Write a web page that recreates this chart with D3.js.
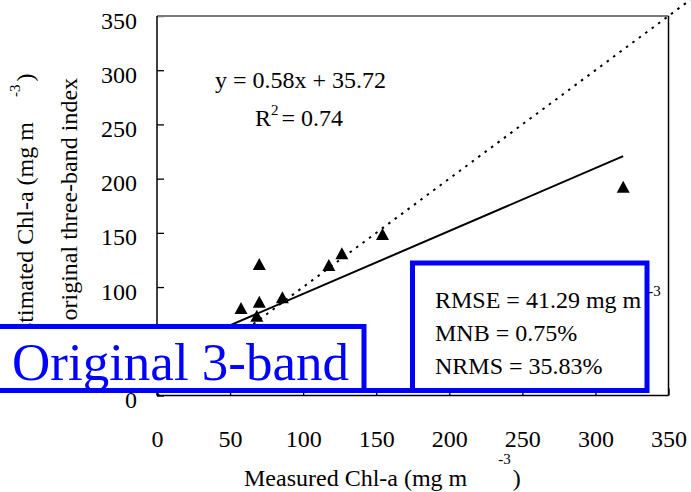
<!DOCTYPE html>
<html>
<head>
<meta charset="utf-8">
<script src="https://cdn.jsdelivr.net/npm/d3@7/dist/d3.min.js"></script>
<style>
  html, body { margin: 0; padding: 0; background: #fff; }
  svg { display: block; }
  svg text { font-family: "Liberation Serif", "Times New Roman", serif; }
</style>
</head>
<body>
<svg id="chart" width="691" height="492"></svg>
<script>
// ---- data ----
const measured  = [57.5, 68.3, 70.0, 70.0, 85.8, 117.6, 126.5, 154.3, 319.0];
const estimated = [80.7, 73.6, 86.5, 121.3, 90.6, 120.4, 131.2, 149.0, 192.6];
const xTicks = [0, 50, 100, 150, 200, 250, 300, 350];
const yTicks = [0, 50, 100, 150, 200, 250, 300, 350];
const slope = 0.58, intercept = 35.72;
const fitRange = [30, 319];
const oneToOneRange = [0, 365];
const equationText = "y = 0.58x + 35.72";
const r2Value = "0.74";
const statsLines = ["RMSE = 41.29 mg m", "MNB = 0.75%", "NRMS = 35.83%"];
const bannerText = "Original 3-band";

// ---- setup ----
const svg = d3.select("#chart");
const x = d3.scaleLinear().domain([0, 350]).range([157, 668.5]);
const y = d3.scaleLinear().domain([0, 350]).range([395.5, 16]);
const FS = 24;
const serif = "Liberation Serif, Times New Roman, serif";

// axes (ticks inward)
const yAxis = d3.axisLeft(y).tickValues(yTicks).tickSizeInner(-7).tickSizeOuter(0).tickPadding(20);
const xAxis = d3.axisBottom(x).tickValues(xTicks).tickSizeInner(-7).tickSizeOuter(0).tickPadding(34);

const gy = svg.append("g").attr("transform", `translate(${x(0)},0)`).call(yAxis);
gy.select(".domain").remove();
gy.attr("font-family", serif);
gy.selectAll(".tick line").attr("stroke", "#000").attr("stroke-width", 1.3);
gy.selectAll("text").attr("font-size", FS).attr("fill", "#000").attr("dy", "0.5em");

const gx = svg.append("g").attr("transform", `translate(0,${y(0)})`).call(xAxis);
gx.select(".domain").remove();
gx.attr("font-family", serif);
gx.selectAll(".tick line").attr("stroke", "#000").attr("stroke-width", 1.3);
gx.selectAll("text").attr("font-size", FS).attr("fill", "#000");

// frame
const frame = svg.append("g");
frame.append("line").attr("x1", x(0)).attr("x2", x(350)).attr("y1", y(350)).attr("y2", y(350))
  .attr("stroke", "#7a7a7a").attr("stroke-width", 2);
frame.append("line").attr("x1", x(0)).attr("x2", x(0)).attr("y1", y(0)).attr("y2", y(350))
  .attr("stroke", "#000").attr("stroke-width", 1.5);
frame.append("line").attr("x1", x(350)).attr("x2", x(350)).attr("y1", y(0)).attr("y2", y(350))
  .attr("stroke", "#000").attr("stroke-width", 1.5);
frame.append("line").attr("x1", x(0)).attr("x2", x(350)).attr("y1", y(0)).attr("y2", y(0))
  .attr("stroke", "#000").attr("stroke-width", 1.5);

// 1:1 dotted line
const line = d3.line().x(d => x(d[0])).y(d => y(d[1]));
svg.append("path")
  .attr("d", line(oneToOneRange.map(v => [v, v])))
  .attr("fill", "none").attr("stroke", "#000").attr("stroke-width", 2)
  .attr("stroke-dasharray", "2.5,5.5");

// regression line
svg.append("path")
  .attr("d", line(fitRange.map(v => [v, slope * v + intercept])))
  .attr("fill", "none").attr("stroke", "#000").attr("stroke-width", 2);

// triangle markers
const tw = 13, th = 12;
const tri = `M0,${-th/2}L${tw/2},${th/2}L${-tw/2},${th/2}Z`;
svg.append("g").selectAll("path")
  .data(measured.map((m, i) => [m, estimated[i]]))
  .join("path")
  .attr("d", tri)
  .attr("transform", d => `translate(${x(d[0])},${y(d[1])})`)
  .attr("fill", "#000");

// equation
svg.append("text").attr("x", 215).attr("y", 88).attr("font-size", FS).attr("fill", "#000")
  .text(equationText);
const r2 = svg.append("text").attr("x", 255).attr("y", 126).attr("font-size", FS).attr("fill", "#000");
r2.append("tspan").text("R");
r2.append("tspan").attr("font-size", 15).attr("dy", -11).attr("dx", 0).text("2");
r2.append("tspan").attr("dy", 11).attr("dx", -3).text(" = " + r2Value);

// y axis title (two lines)
const yt1 = svg.append("text").attr("transform", "translate(33,346.7) rotate(-90)")
  .attr("font-size", FS).attr("fill", "#000");
yt1.append("tspan").text("Estimated Chl-a (mg m");
yt1.append("tspan").attr("font-size", 15).attr("dx", 25).attr("dy", -13).text("-3");
yt1.append("tspan").attr("dx", 3).attr("dy", 13).text(")");
svg.append("text").attr("transform", "translate(77,320.5) rotate(-90)")
  .attr("font-size", FS).attr("fill", "#000").text("original three-band index");

// x axis title
const xt = svg.append("text").attr("x", 244).attr("y", 486).attr("font-size", FS).attr("fill", "#000");
xt.append("tspan").text("Measured Chl-a (mg m");
xt.append("tspan").attr("font-size", 15).attr("dx", 31).attr("dy", -22).text("-3");
xt.append("tspan").attr("dx", 2).attr("dy", 22).text(")");

// blue boxes
const blue = "#0000ff";
svg.append("rect").attr("x", -10).attr("y", 326.5).attr("width", 374).attr("height", 64)
  .attr("fill", "#fff").attr("stroke", blue).attr("stroke-width", 5);
svg.append("rect").attr("x", 412.5).attr("y", 263).attr("width", 234.5).attr("height", 127.5)
  .attr("fill", "#fff").attr("stroke", blue).attr("stroke-width", 5);
svg.append("line").attr("x1", 364).attr("x2", 412.5).attr("y1", 390.5).attr("y2", 390.5)
  .attr("stroke", blue).attr("stroke-width", 5);

svg.append("text").attr("x", 12).attr("y", 380).attr("font-size", 53).attr("fill", blue)
  .text(bannerText);

// stats text
const st = svg.append("g");
statsLines.forEach((s, i) => {
  const t = st.append("text").attr("x", 435).attr("y", 308 + i * 33).attr("font-size", FS).attr("fill", "#000");
  t.append("tspan").text(s);
  if (i === 0) t.append("tspan").attr("font-size", 15).attr("dx", 7).attr("dy", -12).text("-3");
});
</script>
</body>
</html>
